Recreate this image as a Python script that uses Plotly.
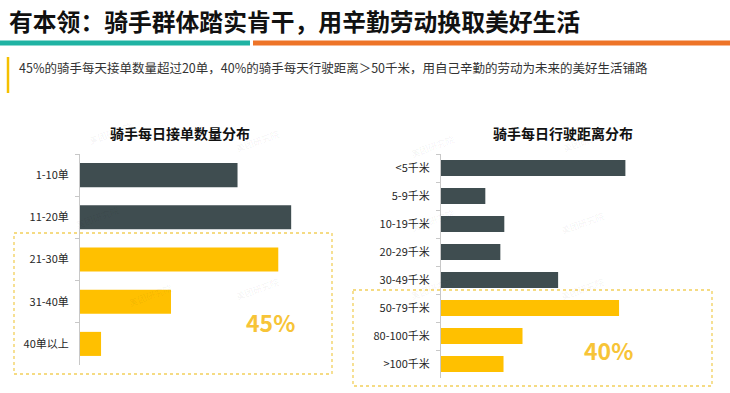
import plotly.graph_objects as go

W, H = 730, 393

# ---- data ----
orders_cats = ["1-10单", "11-20单", "21-30单", "31-40单", "40单以上"]
orders_vals = [23.2, 31.1, 29.2, 13.4, 3.1]
orders_colors = ["#3F4D50", "#3F4D50", "#FFC000", "#FFC000", "#FFC000"]

dist_cats = ["<5千米", "5-9千米", "10-19千米", "20-29千米", "30-49千米", "50-79千米", "80-100千米", ">100千米"]
dist_vals = [23.3, 5.6, 8.0, 7.5, 14.8, 22.5, 10.3, 7.9]
dist_colors = ["#3F4D50"] * 5 + ["#FFC000"] * 3

title_text = "有本领：骑手群体踏实肯干，用辛勤劳动换取美好生活"
subtitle_text = "45%的骑手每天接单数量超过20单，40%的骑手每天行驶距离＞50千米，用自己辛勤的劳动为未来的美好生活铺路"
chart1_title = "骑手每日接单数量分布"
chart2_title = "骑手每日行驶距离分布"
big1 = "45%"
big2 = "40%"

FONT = "Noto Sans CJK SC, Noto Sans, sans-serif"


def px(x):
    return x / W


def py(y):
    return 1 - y / H


fig = go.Figure()
fig.add_trace(go.Bar(x=orders_vals, y=orders_cats, orientation="h",
                     marker=dict(color=orders_colors, line=dict(width=0)),
                     xaxis="x", yaxis="y", hoverinfo="skip"))
fig.add_trace(go.Bar(x=dist_vals, y=dist_cats, orientation="h",
                     marker=dict(color=dist_colors, line=dict(width=0)),
                     xaxis="x2", yaxis="y2", hoverinfo="skip"))

yax_common = dict(
    type="category", autorange="reversed", showline=True, linecolor="#C8C8C8", linewidth=1,
    ticks="outside", ticklen=4, tickcolor="#C8C8C8", tickson="boundaries",
    showgrid=False, zeroline=False, ticklabelstandoff=8,
    tickfont=dict(family=FONT, size=11, color="#262626"),
)
xax_common = dict(visible=False, showgrid=False, zeroline=False, fixedrange=True)

fig.update_layout(
    width=W, height=H, margin=dict(l=0, r=0, t=0, b=0),
    paper_bgcolor="white", plot_bgcolor="white", showlegend=False,
    bargap=0.43,
    xaxis=dict(domain=[px(80), px(300)], range=[0, 32.4], anchor="y", **xax_common),
    yaxis=dict(domain=[py(365), py(154)], anchor="x", **yax_common),
    xaxis2=dict(domain=[px(441), px(661)], range=[0, 27.8], anchor="y2", **xax_common),
    yaxis2=dict(domain=[py(378), py(154)], anchor="x2", **yax_common),
)

shapes = [
    dict(type="line", xref="paper", yref="paper", x0=px(0), x1=px(250), y0=py(43), y1=py(43),
         line=dict(color="#1FB3A3", width=5)),
    dict(type="line", xref="paper", yref="paper", x0=px(253), x1=px(730), y0=py(43), y1=py(43),
         line=dict(color="#EE7428", width=5)),
    dict(type="line", xref="paper", yref="paper", x0=px(8), x1=px(8), y0=py(57), y1=py(93),
         line=dict(color="#F5C000", width=2.5)),
    dict(type="rect", xref="paper", yref="paper", x0=px(14), x1=px(332), y0=py(233), y1=py(374),
         line=dict(color="#F2CF5B", width=1.3, dash="dot")),
    dict(type="rect", xref="paper", yref="paper", x0=px(353), x1=px(712), y0=py(290), y1=py(386),
         line=dict(color="#F2CF5B", width=1.3, dash="dot")),
]

annotations = [
    dict(text="<b>" + title_text + "</b>", x=px(7), y=py(21), xref="paper", yref="paper",
         xanchor="left", yanchor="middle", showarrow=False,
         font=dict(family=FONT, size=23.8, color="#111111")),
    dict(text=subtitle_text, x=px(17), y=py(67), xref="paper", yref="paper",
         xanchor="left", yanchor="middle", showarrow=False,
         font=dict(family=FONT, size=12.5, color="#333333")),
    dict(text="<b>" + chart1_title + "</b>", x=px(180), y=py(133), xref="paper", yref="paper",
         xanchor="center", yanchor="middle", showarrow=False,
         font=dict(family=FONT, size=14, color="#111111")),
    dict(text="<b>" + chart2_title + "</b>", x=px(563), y=py(133), xref="paper", yref="paper",
         xanchor="center", yanchor="middle", showarrow=False,
         font=dict(family=FONT, size=14, color="#111111")),
    dict(text="<b>" + big1 + "</b>", x=px(270), y=py(322), xref="paper", yref="paper",
         xanchor="center", yanchor="middle", showarrow=False,
         font=dict(family=FONT, size=23, color="#F7C437")),
    dict(text="<b>" + big2 + "</b>", x=px(608), y=py(350), xref="paper", yref="paper",
         xanchor="center", yanchor="middle", showarrow=False,
         font=dict(family=FONT, size=23, color="#F7C437")),
]

# faint watermarks
for (wx, wy) in [(85, 133), (257, 125), (72, 218), (257, 306), (125, 312),
                 (433, 130), (610, 125), (433, 220), (608, 223), (433, 305), (608, 306)]:
    annotations.append(dict(text="美团研究院", x=px(wx), y=py(wy), xref="paper", yref="paper",
                            showarrow=False, textangle=-20,
                            font=dict(family=FONT, size=9, color="rgba(0,0,0,0.06)")))

fig.update_layout(shapes=shapes, annotations=annotations)
fig.write_html("out.html",
               config={"displayModeBar": False, "staticPlot": True},
               post_script="document.body.style.margin='0';document.body.style.overflow='hidden';")
